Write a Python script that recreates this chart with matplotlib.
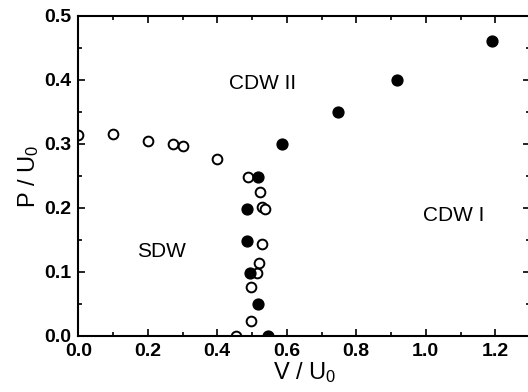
import matplotlib
matplotlib.use("Agg")
import matplotlib.pyplot as plt
from matplotlib.ticker import MultipleLocator

plt.rcParams['font.family'] = ['Liberation Sans', 'DejaVu Sans']
plt.rcParams['mathtext.default'] = 'regular'

# open circles (boundary points)
open_V = [0.0, 0.10, 0.20, 0.273, 0.30, 0.40, 0.487, 0.523, 0.528, 0.537,
          0.530, 0.521, 0.513, 0.497, 0.497, 0.453]
open_P = [0.314, 0.315, 0.304, 0.300, 0.297, 0.277, 0.249, 0.2245, 0.202, 0.198,
          0.143, 0.114, 0.098, 0.077, 0.024, 0.0]

# filled circles
fill_V = [0.518, 0.485, 0.485, 0.494, 0.516, 0.545, 0.586, 0.747, 0.917, 1.19]
fill_P = [0.249, 0.198, 0.148, 0.099, 0.0495, 0.0, 0.300, 0.350, 0.400, 0.461]

labels = ["CDW II", "SDW", "CDW I"]
label_V = [0.529, 0.238, 1.08]
label_P = [0.395, 0.132, 0.189]

fig = plt.figure(figsize=(5.28, 3.92), dpi=100)
ax = fig.add_axes([78.3/528, 56/392, (530-78.3)/528, 320/392])

ax.plot(open_V, open_P, 'o', ms=7.0, mfc='white', mec='black', mew=1.4, ls='none')
ax.plot(fill_V, fill_P, 'o', ms=7.8, mfc='black', mec='black', ls='none')

for t, x, y in zip(labels, label_V, label_P):
    ax.text(x, y, t, ha='center', va='center', fontsize=15)

ax.set_xlim(0, 1.3)
ax.set_ylim(0, 0.5)
ax.xaxis.set_major_locator(MultipleLocator(0.2))
ax.xaxis.set_minor_locator(MultipleLocator(0.1))
ax.yaxis.set_major_locator(MultipleLocator(0.1))
ax.yaxis.set_minor_locator(MultipleLocator(0.05))
ax.xaxis.set_major_formatter(plt.FuncFormatter(lambda v, p: f"{v:.1f}"))
ax.yaxis.set_major_formatter(plt.FuncFormatter(lambda v, p: f"{v:.1f}"))
ax.tick_params(which='both', direction='in', top=True, right=True, width=1.2)
ax.tick_params(which='major', length=5, labelsize=14, pad=5)
ax.tick_params(which='minor', length=3)
for lab in ax.get_xticklabels() + ax.get_yticklabels():
    lab.set_fontweight('bold')
for s in ax.spines.values():
    s.set_linewidth(1.5)

ax.set_xlabel('V / U$_0$', fontsize=17, labelpad=0)
ax.set_ylabel('P / U$_0$', fontsize=17, labelpad=2)

fig.savefig('out.png', dpi=100)
